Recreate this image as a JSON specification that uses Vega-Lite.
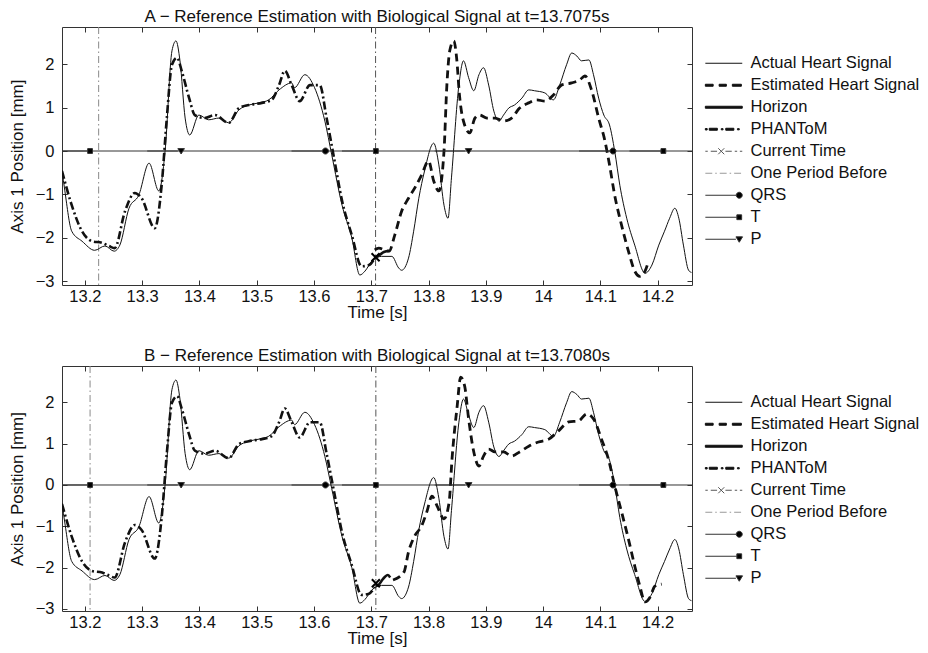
{
  "$schema": "https://vega.github.io/schema/vega-lite/v6.json",
  "padding": {"left": 7, "top": 7, "right": 0, "bottom": 0},
  "datasets": {
    "actual": [
      {"t":13.160,"v":-0.44},{"t":13.165,"v":-0.92},{"t":13.177,"v":-1.85},{"t":13.195,"v":-2.08},{"t":13.217,"v":-2.29},{"t":13.235,"v":-2.19},{"t":13.251,"v":-2.31},{"t":13.261,"v":-2.17},{"t":13.277,"v":-1.32},{"t":13.294,"v":-1.02},{"t":13.312,"v":-0.28},{"t":13.329,"v":-0.92},{"t":13.340,"v":0},{"t":13.352,"v":2.31},{"t":13.359,"v":2.54},{"t":13.366,"v":2.08},{"t":13.375,"v":0.76},{"t":13.383,"v":0.37},{"t":13.399,"v":0.83},{"t":13.416,"v":0.72},{"t":13.434,"v":0.76},{"t":13.451,"v":0.65},{"t":13.469,"v":0.95},{"t":13.486,"v":1.06},{"t":13.504,"v":1.11},{"t":13.521,"v":1.18},{"t":13.539,"v":1.41},{"t":13.561,"v":1.57},{"t":13.566,"v":1.46},{"t":13.584,"v":1.76},{"t":13.601,"v":1.46},{"t":13.619,"v":0.69},{"t":13.631,"v":-0.09},{"t":13.649,"v":-1.25},{"t":13.666,"v":-2.0},{"t":13.680,"v":-2.86},{"t":13.689,"v":-2.77},{"t":13.701,"v":-2.54},{"t":13.718,"v":-2.43},{"t":13.736,"v":-2.43},{"t":13.748,"v":-2.70},{"t":13.753,"v":-2.75},{"t":13.765,"v":-2.47},{"t":13.774,"v":-1.85},{"t":13.783,"v":-1.09},{"t":13.793,"v":-0.46},{"t":13.809,"v":0.18},{"t":13.818,"v":-0.32},{"t":13.827,"v":-1.25},{"t":13.834,"v":-1.55},{"t":13.840,"v":-0.62},{"t":13.853,"v":1.52},{"t":13.861,"v":2.08},{"t":13.870,"v":1.69},{"t":13.879,"v":1.39},{"t":13.888,"v":1.76},{"t":13.896,"v":1.92},{"t":13.905,"v":1.52},{"t":13.914,"v":0.92},{"t":13.923,"v":0.69},{"t":13.931,"v":0.83},{"t":13.940,"v":0.99},{"t":13.950,"v":1.06},{"t":13.963,"v":1.22},{"t":13.975,"v":1.41},{"t":13.985,"v":1.39},{"t":14.003,"v":1.34},{"t":14.018,"v":1.18},{"t":14.029,"v":1.52},{"t":14.041,"v":1.99},{"t":14.050,"v":2.26},{"t":14.059,"v":2.19},{"t":14.067,"v":2.08},{"t":14.080,"v":2.10},{"t":14.088,"v":1.76},{"t":14.097,"v":1.22},{"t":14.106,"v":0.83},{"t":14.116,"v":0.60},{"t":14.125,"v":0},{"t":14.134,"v":-0.79},{"t":14.146,"v":-1.55},{"t":14.160,"v":-2.17},{"t":14.178,"v":-2.82},{"t":14.190,"v":-2.63},{"t":14.202,"v":-2.17},{"t":14.212,"v":-1.85},{"t":14.221,"v":-1.55},{"t":14.230,"v":-1.32},{"t":14.237,"v":-1.55},{"t":14.245,"v":-2.17},{"t":14.254,"v":-2.75},{"t":14.259,"v":-2.80}
    ],
    "phantom": [
      {"t":13.160,"v":-0.46},{"t":13.177,"v":-1.25},{"t":13.195,"v":-1.85},{"t":13.212,"v":-2.08},{"t":13.230,"v":-2.12},{"t":13.242,"v":-2.19},{"t":13.252,"v":-2.24},{"t":13.270,"v":-1.39},{"t":13.287,"v":-0.97},{"t":13.299,"v":-1.09},{"t":13.322,"v":-1.78},{"t":13.334,"v":-0.79},{"t":13.343,"v":0.76},{"t":13.352,"v":1.99},{"t":13.361,"v":2.15},{"t":13.369,"v":1.85},{"t":13.382,"v":1.22},{"t":13.392,"v":0.83},{"t":13.409,"v":0.76},{"t":13.427,"v":0.83},{"t":13.451,"v":0.65},{"t":13.469,"v":0.99},{"t":13.486,"v":1.06},{"t":13.509,"v":1.11},{"t":13.526,"v":1.18},{"t":13.539,"v":1.52},{"t":13.549,"v":1.85},{"t":13.561,"v":1.52},{"t":13.575,"v":1.15},{"t":13.593,"v":1.52},{"t":13.610,"v":1.52},{"t":13.622,"v":0.76},{"t":13.635,"v":-0.16},{"t":13.649,"v":-1.15},{"t":13.666,"v":-1.94},{"t":13.683,"v":-2.66},{"t":13.696,"v":-2.63},{"t":13.706,"v":-2.47}
    ],
    "est": [
      {"panel":"A","t":13.706,"v":-2.28},{"panel":"A","t":13.713,"v":-2.24},{"panel":"A","t":13.731,"v":-2.31},{"panel":"A","t":13.741,"v":-1.94},{"panel":"A","t":13.753,"v":-1.39},{"panel":"A","t":13.765,"v":-1.09},{"panel":"A","t":13.776,"v":-0.85},{"panel":"A","t":13.788,"v":-0.55},{"panel":"A","t":13.800,"v":-0.23},{"panel":"A","t":13.809,"v":-0.69},{"panel":"A","t":13.818,"v":-0.92},{"panel":"A","t":13.827,"v":0},{"panel":"A","t":13.832,"v":1.52},{"panel":"A","t":13.837,"v":2.31},{"panel":"A","t":13.844,"v":2.54},{"panel":"A","t":13.849,"v":2.15},{"panel":"A","t":13.854,"v":1.29},{"panel":"A","t":13.863,"v":0.60},{"panel":"A","t":13.872,"v":0.42},{"panel":"A","t":13.881,"v":0.76},{"panel":"A","t":13.889,"v":0.83},{"panel":"A","t":13.902,"v":0.76},{"panel":"A","t":13.916,"v":0.76},{"panel":"A","t":13.931,"v":0.69},{"panel":"A","t":13.945,"v":0.76},{"panel":"A","t":13.959,"v":0.99},{"panel":"A","t":13.975,"v":1.11},{"panel":"A","t":13.989,"v":1.18},{"panel":"A","t":14.003,"v":1.15},{"panel":"A","t":14.018,"v":1.29},{"panel":"A","t":14.032,"v":1.52},{"panel":"A","t":14.050,"v":1.57},{"panel":"A","t":14.064,"v":1.64},{"panel":"A","t":14.073,"v":1.73},{"panel":"A","t":14.085,"v":1.39},{"panel":"A","t":14.097,"v":0.76},{"panel":"A","t":14.108,"v":0.23},{"panel":"A","t":14.116,"v":-0.32},{"panel":"A","t":14.125,"v":-1.02},{"panel":"A","t":14.137,"v":-1.71},{"panel":"A","t":14.149,"v":-2.31},{"panel":"A","t":14.160,"v":-2.77},{"panel":"A","t":14.169,"v":-2.89},{"panel":"A","t":14.178,"v":-2.77},{"panel":"A","t":14.184,"v":-2.54},
      {"panel":"B","t":13.738,"v":-2.30},{"panel":"B","t":13.757,"v":-2.11},{"panel":"B","t":13.765,"v":-1.62},{"panel":"B","t":13.776,"v":-1.23},{"panel":"B","t":13.788,"v":-0.99},{"panel":"B","t":13.797,"v":-0.65},{"panel":"B","t":13.806,"v":-0.27},{"panel":"B","t":13.815,"v":-0.51},{"panel":"B","t":13.827,"v":-0.82},{"panel":"B","t":13.836,"v":-0.41},{"panel":"B","t":13.841,"v":0.63},{"panel":"B","t":13.850,"v":1.91},{"panel":"B","t":13.856,"v":2.61},{"panel":"B","t":13.863,"v":2.40},{"panel":"B","t":13.870,"v":1.60},{"panel":"B","t":13.879,"v":0.80},{"panel":"B","t":13.888,"v":0.46},{"panel":"B","t":13.896,"v":0.70},{"panel":"B","t":13.905,"v":0.87},{"panel":"B","t":13.916,"v":0.80},{"panel":"B","t":13.931,"v":0.80},{"panel":"B","t":13.945,"v":0.70},{"panel":"B","t":13.959,"v":0.80},{"panel":"B","t":13.975,"v":0.94},{"panel":"B","t":13.992,"v":1.04},{"panel":"B","t":14.010,"v":1.11},{"panel":"B","t":14.027,"v":1.31},{"panel":"B","t":14.045,"v":1.53},{"panel":"B","t":14.062,"v":1.55},{"panel":"B","t":14.076,"v":1.72},{"panel":"B","t":14.088,"v":1.60},{"panel":"B","t":14.102,"v":1.11},{"panel":"B","t":14.114,"v":0.63},{"panel":"B","t":14.125,"v":-0.02},{"panel":"B","t":14.137,"v":-0.65},{"panel":"B","t":14.149,"v":-1.31},{"panel":"B","t":14.160,"v":-1.96},{"panel":"B","t":14.169,"v":-2.45},{"panel":"B","t":14.178,"v":-2.83},{"panel":"B","t":14.187,"v":-2.71},{"panel":"B","t":14.195,"v":-2.45},{"panel":"B","t":14.207,"v":-2.40}
    ],
    "horizon": [
      {"panel":"A","t":13.7075,"v":-2.45},{"panel":"A","t":13.714,"v":-2.40},{"panel":"A","t":13.722,"v":-2.33},{"panel":"A","t":13.732,"v":-2.30},
      {"panel":"B","t":13.708,"v":-2.45},{"panel":"B","t":13.714,"v":-2.40},{"panel":"B","t":13.719,"v":-2.30},{"panel":"B","t":13.724,"v":-2.22},{"panel":"B","t":13.729,"v":-2.18},{"panel":"B","t":13.733,"v":-2.24}
    ],
    "markers": [
      {"series":"T","t":13.209,"v":0},{"series":"P","t":13.368,"v":0},{"series":"QRS","t":13.620,"v":0},{"series":"T","t":13.708,"v":0},{"series":"P","t":13.870,"v":0},{"series":"QRS","t":14.122,"v":0},{"series":"T","t":14.210,"v":0}
    ],
    "xmark": [
      {"panel":"A","t":13.7075,"v":-2.45},{"panel":"B","t":13.708,"v":-2.38}
    ],
    "vlines": [
      {"panel":"A","kind":"One Period Before","t":13.224},{"panel":"A","kind":"Current Time","t":13.7075},
      {"panel":"B","kind":"One Period Before","t":13.209},{"panel":"B","kind":"Current Time","t":13.708}
    ]
  },
  "vconcat": [
    {
      "title": "A − Reference Estimation with Biological Signal at t=13.7075s",
      "width": 630, "height": 258,
      "resolve": {"axis": {"x": "independent", "y": "independent"}},
      "layer": [
        {"data": {"name": "vlines"}, "transform": [{"filter": "datum.panel === 'A' && datum.kind === 'One Period Before'"}],
         "mark": {"type": "rule", "stroke": "#8a8a8a", "strokeWidth": 1, "strokeDash": [7, 3, 1.5, 3]},
         "encoding": {"x": {"field": "t", "type": "quantitative", "scale": {"domain": [13.16, 14.26], "nice": false, "zero": false}, "axis": null}}},
        {"data": {"name": "vlines"}, "transform": [{"filter": "datum.panel === 'A' && datum.kind === 'Current Time'"}],
         "mark": {"type": "rule", "stroke": "#555", "strokeWidth": 1, "strokeDash": [7, 3, 1.5, 3]},
         "encoding": {"x": {"field": "t", "type": "quantitative", "scale": {"domain": [13.16, 14.26], "nice": false, "zero": false}, "axis": null}}},
        {"data": {"name": "vlines"}, "transform": [{"filter": "datum.panel === 'A' && datum.kind === 'Current Time'"}],
         "mark": {"type": "rule", "stroke": "#333", "strokeWidth": 1},
         "encoding": {"y": {"datum": 0, "type": "quantitative", "scale": {"domain": [-3.09, 2.86], "nice": false, "zero": false}, "axis": null}}},
        {"data": {"name": "actual"},
         "mark": {"type": "line", "interpolate": "monotone", "stroke": "#111", "strokeWidth": 1, "clip": true},
         "encoding": {
           "x": {"field": "t", "type": "quantitative", "scale": {"domain": [13.16, 14.26], "nice": false, "zero": false},
                 "axis": {"orient": "bottom", "title": "Time [s]", "values": [13.2, 13.3, 13.4, 13.5, 13.6, 13.7, 13.8, 13.9, 14, 14.1, 14.2], "format": "~r", "labelPadding": 8, "titlePadding": 0}},
           "y": {"field": "v", "type": "quantitative", "scale": {"domain": [-3.09, 2.86], "nice": false, "zero": false},
                 "axis": {"orient": "left", "title": "Axis 1 Position [mm]", "values": [-3, -2, -1, 0, 1, 2], "format": "~r", "labelPadding": 13, "titlePadding": 9}}
         }},
        {"data": {"name": "phantom"},
         "mark": {"type": "line", "interpolate": "monotone", "stroke": "#111", "strokeWidth": 2.6, "strokeDash": [8, 3, 2, 3], "clip": true},
         "encoding": {
           "x": {"field": "t", "type": "quantitative", "scale": {"domain": [13.16, 14.26], "nice": false, "zero": false},
                 "axis": {"orient": "top", "title": null, "labels": false, "values": [13.2, 13.3, 13.4, 13.5, 13.6, 13.7, 13.8, 13.9, 14, 14.1, 14.2]}},
           "y": {"field": "v", "type": "quantitative", "scale": {"domain": [-3.09, 2.86], "nice": false, "zero": false},
                 "axis": {"orient": "right", "title": null, "labels": false, "values": [-3, -2, -1, 0, 1, 2]}}
         }},
        {"data": {"name": "est"}, "transform": [{"filter": "datum.panel === 'A'"}],
         "mark": {"type": "line", "interpolate": "monotone", "stroke": "#111", "strokeWidth": 2.8, "strokeDash": [8, 5], "clip": true},
         "encoding": {
           "x": {"field": "t", "type": "quantitative", "scale": {"domain": [13.16, 14.26], "nice": false, "zero": false}, "axis": null},
           "y": {"field": "v", "type": "quantitative", "scale": {"domain": [-3.09, 2.86], "nice": false, "zero": false}, "axis": null}
         }},
        {"data": {"name": "horizon"}, "transform": [{"filter": "datum.panel === 'A'"}],
         "mark": {"type": "line", "interpolate": "monotone", "stroke": "#111", "strokeWidth": 2.6, "clip": true},
         "encoding": {
           "x": {"field": "t", "type": "quantitative", "scale": {"domain": [13.16, 14.26], "nice": false, "zero": false}, "axis": null},
           "y": {"field": "v", "type": "quantitative", "scale": {"domain": [-3.09, 2.86], "nice": false, "zero": false}, "axis": null}
         }},
        {"data": {"name": "markers"},
         "mark": {"type": "point", "size": 36, "strokeWidth": 1, "opacity": 1, "clip": true},
         "encoding": {
           "x": {"field": "t", "type": "quantitative", "scale": {"domain": [13.16, 14.26], "nice": false, "zero": false}, "axis": null},
           "y": {"field": "v", "type": "quantitative", "scale": {"domain": [-3.09, 2.86], "nice": false, "zero": false}, "axis": null},
           "shape": {"field": "series", "type": "nominal",
             "scale": {"domain": ["Actual Heart Signal", "Estimated Heart Signal", "Horizon", "PHANToM", "Current Time", "One Period Before", "QRS", "T", "P"],
                       "range": ["M-11.3,0H1", "M-11.3,-0.33H-8.7V0.33H-11.3Z M-6.7,-0.33H-4.3V0.33H-6.7Z M-2.3,-0.33H0.7V0.33H-2.3Z", "M-11.3,-0.33H1V0.33H-11.3Z", "M-11.3,-0.25H-10.7V0.25H-11.3Z M-10,-0.33H-7.3V0.33H-10Z M-6,-0.2H-5.4V0.2H-6Z M-4.5,-0.33H-1.8V0.33H-4.5Z M-0.6,-0.2H0V0.2H-0.6Z", "M-11.3,0H-10.5M-9.5,0H-7.4M-4.6,0H-2.5M-1.5,0H-0.7M0.2,0H1M-7,-1L-5,1M-7,1L-5,-1", "M-11.3,0H-9M-8,0H-7.5M-6.5,0H-4.2M-3.2,0H-2.7M-1.7,0H0.6", "M-11.3,0H-1M1,0A1,1,0,1,1,-1,0A1,1,0,1,1,1,0Z", "M-11.3,0H-0.8M-0.8,-0.8H0.8V0.8H-0.8Z", "M-11.3,0H-1.1M-1.1,-0.8H1.1L0,1Z"]},
             "legend": {"title": null, "orient": "none", "legendX": 669, "legendY": 28}},
           "fill": {"field": "series", "type": "nominal",
             "scale": {"domain": ["Actual Heart Signal", "Estimated Heart Signal", "Horizon", "PHANToM", "Current Time", "One Period Before", "QRS", "T", "P"],
                       "range": ["#111", "#111", "#111", "#111", "#333", "#999", "#000", "#000", "#000"]},
             "legend": {"title": null, "orient": "none", "legendX": 669, "legendY": 28}},
           "stroke": {"field": "series", "type": "nominal",
             "scale": {"domain": ["Actual Heart Signal", "Estimated Heart Signal", "Horizon", "PHANToM", "Current Time", "One Period Before", "QRS", "T", "P"],
                       "range": ["#111", "#111", "#111", "#111", "#555", "#999", "#333", "#333", "#333"]},
             "legend": {"title": null, "orient": "none", "legendX": 669, "legendY": 28}}
         }},
        {"data": {"name": "xmark"}, "transform": [{"filter": "datum.panel === 'A'"}],
         "mark": {"type": "point", "shape": "M-1,-1L1,1M-1,1L1,-1", "size": 64, "stroke": "#000", "strokeWidth": 2, "filled": false, "opacity": 1},
         "encoding": {
           "x": {"field": "t", "type": "quantitative", "scale": {"domain": [13.16, 14.26], "nice": false, "zero": false}, "axis": null},
           "y": {"field": "v", "type": "quantitative", "scale": {"domain": [-3.09, 2.86], "nice": false, "zero": false}, "axis": null}
         }}
      ]
    },
    {
      "title": "B − Reference Estimation with Biological Signal at t=13.7080s",
      "width": 630, "height": 245,
      "resolve": {"axis": {"x": "independent", "y": "independent"}},
      "layer": [
        {"data": {"name": "vlines"}, "transform": [{"filter": "datum.panel === 'B' && datum.kind === 'One Period Before'"}],
         "mark": {"type": "rule", "stroke": "#8a8a8a", "strokeWidth": 1, "strokeDash": [7, 3, 1.5, 3]},
         "encoding": {"x": {"field": "t", "type": "quantitative", "scale": {"domain": [13.16, 14.26], "nice": false, "zero": false}, "axis": null}}},
        {"data": {"name": "vlines"}, "transform": [{"filter": "datum.panel === 'B' && datum.kind === 'Current Time'"}],
         "mark": {"type": "rule", "stroke": "#555", "strokeWidth": 1, "strokeDash": [7, 3, 1.5, 3]},
         "encoding": {"x": {"field": "t", "type": "quantitative", "scale": {"domain": [13.16, 14.26], "nice": false, "zero": false}, "axis": null}}},
        {"data": {"name": "vlines"}, "transform": [{"filter": "datum.panel === 'B' && datum.kind === 'Current Time'"}],
         "mark": {"type": "rule", "stroke": "#333", "strokeWidth": 1},
         "encoding": {"y": {"datum": 0, "type": "quantitative", "scale": {"domain": [-3.05, 2.88], "nice": false, "zero": false}, "axis": null}}},
        {"data": {"name": "actual"},
         "mark": {"type": "line", "interpolate": "monotone", "stroke": "#111", "strokeWidth": 1, "clip": true},
         "encoding": {
           "x": {"field": "t", "type": "quantitative", "scale": {"domain": [13.16, 14.26], "nice": false, "zero": false},
                 "axis": {"orient": "bottom", "title": "Time [s]", "values": [13.2, 13.3, 13.4, 13.5, 13.6, 13.7, 13.8, 13.9, 14, 14.1, 14.2], "format": "~r", "labelPadding": 8, "titlePadding": 0}},
           "y": {"field": "v", "type": "quantitative", "scale": {"domain": [-3.05, 2.88], "nice": false, "zero": false},
                 "axis": {"orient": "left", "title": "Axis 1 Position [mm]", "values": [-3, -2, -1, 0, 1, 2], "format": "~r", "labelPadding": 13, "titlePadding": 9}}
         }},
        {"data": {"name": "phantom"},
         "mark": {"type": "line", "interpolate": "monotone", "stroke": "#111", "strokeWidth": 2.6, "strokeDash": [8, 3, 2, 3], "clip": true},
         "encoding": {
           "x": {"field": "t", "type": "quantitative", "scale": {"domain": [13.16, 14.26], "nice": false, "zero": false},
                 "axis": {"orient": "top", "title": null, "labels": false, "values": [13.2, 13.3, 13.4, 13.5, 13.6, 13.7, 13.8, 13.9, 14, 14.1, 14.2]}},
           "y": {"field": "v", "type": "quantitative", "scale": {"domain": [-3.05, 2.88], "nice": false, "zero": false},
                 "axis": {"orient": "right", "title": null, "labels": false, "values": [-3, -2, -1, 0, 1, 2]}}
         }},
        {"data": {"name": "est"}, "transform": [{"filter": "datum.panel === 'B'"}],
         "mark": {"type": "line", "interpolate": "monotone", "stroke": "#111", "strokeWidth": 2.8, "strokeDash": [8, 5], "clip": true},
         "encoding": {
           "x": {"field": "t", "type": "quantitative", "scale": {"domain": [13.16, 14.26], "nice": false, "zero": false}, "axis": null},
           "y": {"field": "v", "type": "quantitative", "scale": {"domain": [-3.05, 2.88], "nice": false, "zero": false}, "axis": null}
         }},
        {"data": {"name": "horizon"}, "transform": [{"filter": "datum.panel === 'B'"}],
         "mark": {"type": "line", "interpolate": "monotone", "stroke": "#111", "strokeWidth": 2.6, "clip": true},
         "encoding": {
           "x": {"field": "t", "type": "quantitative", "scale": {"domain": [13.16, 14.26], "nice": false, "zero": false}, "axis": null},
           "y": {"field": "v", "type": "quantitative", "scale": {"domain": [-3.05, 2.88], "nice": false, "zero": false}, "axis": null}
         }},
        {"data": {"name": "markers"},
         "mark": {"type": "point", "size": 36, "strokeWidth": 1, "opacity": 1, "clip": true},
         "encoding": {
           "x": {"field": "t", "type": "quantitative", "scale": {"domain": [13.16, 14.26], "nice": false, "zero": false}, "axis": null},
           "y": {"field": "v", "type": "quantitative", "scale": {"domain": [-3.05, 2.88], "nice": false, "zero": false}, "axis": null},
           "shape": {"field": "series", "type": "nominal",
             "scale": {"domain": ["Actual Heart Signal", "Estimated Heart Signal", "Horizon", "PHANToM", "Current Time", "One Period Before", "QRS", "T", "P"],
                       "range": ["M-11.3,0H1", "M-11.3,-0.33H-8.7V0.33H-11.3Z M-6.7,-0.33H-4.3V0.33H-6.7Z M-2.3,-0.33H0.7V0.33H-2.3Z", "M-11.3,-0.33H1V0.33H-11.3Z", "M-11.3,-0.25H-10.7V0.25H-11.3Z M-10,-0.33H-7.3V0.33H-10Z M-6,-0.2H-5.4V0.2H-6Z M-4.5,-0.33H-1.8V0.33H-4.5Z M-0.6,-0.2H0V0.2H-0.6Z", "M-11.3,0H-10.5M-9.5,0H-7.4M-4.6,0H-2.5M-1.5,0H-0.7M0.2,0H1M-7,-1L-5,1M-7,1L-5,-1", "M-11.3,0H-9M-8,0H-7.5M-6.5,0H-4.2M-3.2,0H-2.7M-1.7,0H0.6", "M-11.3,0H-1M1,0A1,1,0,1,1,-1,0A1,1,0,1,1,1,0Z", "M-11.3,0H-0.8M-0.8,-0.8H0.8V0.8H-0.8Z", "M-11.3,0H-1.1M-1.1,-0.8H1.1L0,1Z"]},
             "legend": {"title": null, "orient": "none", "legendX": 669, "legendY": 28}},
           "fill": {"field": "series", "type": "nominal",
             "scale": {"domain": ["Actual Heart Signal", "Estimated Heart Signal", "Horizon", "PHANToM", "Current Time", "One Period Before", "QRS", "T", "P"],
                       "range": ["#111", "#111", "#111", "#111", "#333", "#999", "#000", "#000", "#000"]},
             "legend": {"title": null, "orient": "none", "legendX": 669, "legendY": 28}},
           "stroke": {"field": "series", "type": "nominal",
             "scale": {"domain": ["Actual Heart Signal", "Estimated Heart Signal", "Horizon", "PHANToM", "Current Time", "One Period Before", "QRS", "T", "P"],
                       "range": ["#111", "#111", "#111", "#111", "#555", "#999", "#333", "#333", "#333"]},
             "legend": {"title": null, "orient": "none", "legendX": 669, "legendY": 28}}
         }},
        {"data": {"name": "xmark"}, "transform": [{"filter": "datum.panel === 'B'"}],
         "mark": {"type": "point", "shape": "M-1,-1L1,1M-1,1L1,-1", "size": 64, "stroke": "#000", "strokeWidth": 2, "filled": false, "opacity": 1},
         "encoding": {
           "x": {"field": "t", "type": "quantitative", "scale": {"domain": [13.16, 14.26], "nice": false, "zero": false}, "axis": null},
           "y": {"field": "v", "type": "quantitative", "scale": {"domain": [-3.05, 2.88], "nice": false, "zero": false}, "axis": null}
         }}
      ]
    }
  ],
  "resolve": {"scale": {"shape": "independent", "fill": "independent", "stroke": "independent", "x": "independent", "y": "independent"}, "legend": {"shape": "independent", "fill": "independent", "stroke": "independent"}},
  "config": {
    "font": "Liberation Sans",
    "view": {"stroke": "#333", "strokeWidth": 1},
    "concat": {"spacing": 25},
    "axis": {"grid": false, "domain": false, "tickColor": "#333", "tickSize": -5, "labelColor": "#111", "titleColor": "#111", "labelFontSize": 16.5, "titleFontSize": 17, "titleFontWeight": "normal", "labelFont": "Liberation Sans", "titleFont": "Liberation Sans"},
    "title": {"fontSize": 17, "fontWeight": "normal", "color": "#111", "offset": 1, "anchor": "middle", "font": "Liberation Sans"},
    "legend": {"labelFontSize": 16.5, "labelFont": "Liberation Sans", "labelColor": "#111", "labelOffset": 3, "labelLimit": 0, "rowPadding": 5, "padding": 0, "symbolStrokeWidth": 1, "symbolSize": 36}
  }
}
